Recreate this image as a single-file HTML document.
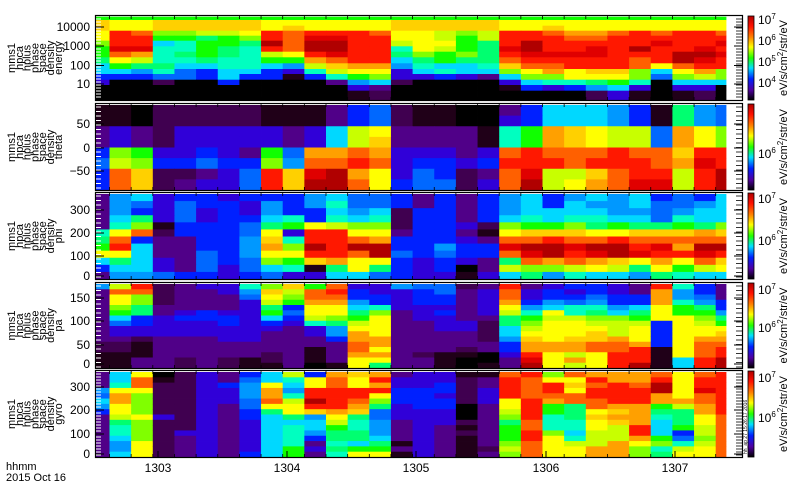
<!DOCTYPE html>
<html><head><meta charset="utf-8"><style>
html,body{margin:0;padding:0;background:#fff;width:800px;height:500px;overflow:hidden}
svg{display:block}
text{font-family:"Liberation Sans",sans-serif;fill:#000}
</style></head><body>
<svg id="s" width="800" height="500" xmlns="http://www.w3.org/2000/svg">
<defs>
<linearGradient id="cb" x1="0" y1="0" x2="0" y2="1">
<stop offset="0" stop-color="#b00000"/><stop offset="0.12" stop-color="#ff1000"/>
<stop offset="0.25" stop-color="#ff8000"/><stop offset="0.37" stop-color="#ffff00"/>
<stop offset="0.5" stop-color="#20ff00"/><stop offset="0.62" stop-color="#00e0ff"/>
<stop offset="0.75" stop-color="#0020ff"/><stop offset="0.88" stop-color="#5000a0"/>
<stop offset="1" stop-color="#000000"/></linearGradient>
</defs>
<g id="g"></g>
</svg>
<script>
var C={k:'#000000',K:'#200018',P:'#400050',p:'#500088',v:'#3000d8',B:'#0020ff',b:'#0068ff',s:'#0098ff',c:'#00d8ff',t:'#00ffc0',a:'#00ff70',g:'#10ff00',l:'#80ff00',L:'#c8ff00',y:'#ffff00',Y:'#ffd000',O:'#ffa000',o:'#ff6000',r:'#ff1800',R:'#e00000',d:'#b00000'};
var P1=["gggggggggggggggggggggggggggggg","YyyYYYYYyyyyyyYYYYYyyyyyyyyyyy","YyyYYYYYyYyyyyYYYYYyyYyyyyyyyy","yrollLLyrorrroyyLlLrroOOororro","yrrggaglroRRrryyLgLrrroorrrrrr","lrrctggadoddrrLyygardrrrrrRrrR","gRRttgatroddrrtyLgaRdrrRrdrrRr","goOtagatLyrRrralglarRRRRrrrddR","ayLttattggOorrcagaaorrrrrordRr","cgaacconcsLYOOstcctYoorrroyorr","ccstbBccBvtLyyvctcclyOyYYlcyOl","BBBbbBcBBKBtglvvBvpcllyyylblLl","vkkPkkBkkkkpscPkkkkvcttagtkccc","kkkkkkkkkkkkvpkkkkkKBvBscvkvvk","kkkkkkkkkkkkKPkkkkkkkkkPvKkKPk"];
P1[9]="cgaacctcsLYOOstcctYoorrroyorr".length==29?"cgaacctt"+"csLYOOstcctYoorrroyorr":P1[9];
var P1Y=[16.7,20,25.7,30.7,35.7,40.7,46.3,51.7,57.3,63.3,69,74,79.7,85,90.7,100];
var P2=["KKkPPPPPKKKpBbPKKkkpBcccsBKasb","KKkPPPPPKKKpBbPKKkkvBcccsBKasb","pvpPvvvvvpvcLyppppKtgOYyLLbOyl","pvpPvvvvvpvcLYppppKtgOYyLLbOyl","BlgvvBvpgbOOoOvvvpvoroooroOYrr".replace("oOYrr","ooYrr"),"bLlBBbBBlsoorovBBvBrrrorrroORr","BoYPPpvbrYRdOyvbBPpoRLLYorrLrd","BoYPpvvbrYddoyBbbPvodLyOoRRLrd"];
var P3=["pscvBBvBBBscbbBpBpBscBscscBbBc","psbvbBBvsBstbbBpBpBscBcsscbbsc","psBvbvBvsBBcscPBBpBscccc ssbscc".replace(" ",""),"pcavbvBBctBtctPBBpBctcttccbtcc","ptlKBBBbagyLllPBBvPlgglagaagal","tyoPBBBbyvrryypBBpKyYYYyyYYYOY","aoBppBBsYtrroOBBBvpooroorooooor".slice(0,30),"grcppBBsOldrddBBsBBRddRddrROdd","yycppbBsyyrrodbBbBBoRdrRdRrrRr","cacvpbBblgYOyyBvBvpaoOoOYyOyoY","BccvpbvbctKayaBvBkpLllLyLaygLy","pssbBBvBbvvccbBvvKvcastccsatcc"];
var P4c=["sppppppppppPPKKK","LoyylgcbvvpPPKKK","rollaaBBvvPKKKpp","PPPPppvvvvpppppp","pppppvBvvvppppPP","vppppBBvvvpppppp","vvpppvBBvvvpppPP","tsbvvvvvvvvpppKK","lYyLagcBvppppPPK","YLlgBbBvpppppppp","gooOyyLtvvppKKKk","oroOyylassBppppK","vBBscagLyOOooOyy","vvBBtlyyyyOOyOya","svvvvppppppppppp","bBBBvvvppppppPpp","bbBBvBvvvppppKKK","PppppppvvpppPKkkk".slice(0,16),"pvvvvvpPPPPppkkK","rooOyLaaccsBBvpp","pvvBstglLyYOOrRd","vBBscyLyyyyOOyyy","BvBbttLyyyYOOLOL","BBbstalLyYYooyyy","vvBBsclLLLOoorrr","ppBBcagLyyyOrrrd","rOOOyyyBBBBBKKKK","tsstggyyyyyyyycc","BBbsaglLyyOooorr","pppBBsagyYOorrdd"];
var P5c=["pppsbcsBpppppppp","cctyOOyyLattcssc","yooyllllyllllyy".concat("y"),"kKPPPPPPvPPPPPPP","PPPPPPPPPPPvpppp","vvvvvvvvvvvvvvvv","ppBvvvpppppppppp","BbsssbbBBvvvvvvB","ccyOOoyacccccccc","LtcstLyyacttttgga".slice(0,16),"ByyrrdrYsccsBpvp","OoorrrrOyLgaataty".slice(0,16),"YyyrroOYattaacgy","OrOrylabbssscagy","pvvBBBvvvppppKpK","vvvBBBBvvvvvvvvv","vvBBvBBvvvpppppp","KPPPPPkkkPKPKKKK","KppvvvppppppppPp","orrrryyLlaggglLl".slice(0,16),"roooorrrroorroooo".slice(0,16),"lyrroOggtttlyyyy","oyYyooaaattctLyy","OrorrooyYyyLLLOO","OOrrrrOYOYLLLOOO","OOorrrOOOOrrOyll","orddOOgatcccglta","yyyyyOLaaagBbtLy","orrRooOOyyLLlLyy","rrrrrrrroooooooo"];
var NS="http://www.w3.org/2000/svg",G=document.getElementById('g');
function el(n,a,t){var e=document.createElementNS(NS,n);for(var k in a)e.setAttribute(k,a[k]);if(t!=null)e.textContent=t;G.appendChild(e);return e;}
var X=[96,109.5];for(var i=1;i<29;i++)X.push(109.5+i*21.65);X[29]=715.7;X.push(726);
function cell(i,y0,y1,ch){var f=C[ch]||'#500088';el('rect',{x:X[i],y:y0,width:X[i+1]-X[i]+0.4,height:y1-y0+0.4,fill:f});}
function rowsPanel(rows,ys){for(var r=0;r<rows.length;r++)for(var i=0;i<30;i++)cell(i,ys[r],ys[r+1],rows[r][i]);}
function eq(a,b,n){var o=[];for(var i=0;i<=n;i++)o.push(a+(b-a)*i/n);return o;}
function colsPanel(cols,ys){for(var i=0;i<30;i++)for(var r=0;r<16;r++)cell(i,ys[r],ys[r+1],cols[i][r]);}
rowsPanel(P1,P1Y);
rowsPanel(P2,eq(105,190,8));
rowsPanel(P3,eq(194,279,12));
colsPanel(P4c,eq(284,368,16));
colsPanel(P5c,eq(372,457,16));
var pan=[[16,100],[104,190],[193,279],[283,368],[371,457]];
var names=["energy","theta","phi","pa","gyro"];
pan.forEach(function(p,k){
 el('rect',{x:95.5,y:p[0]-0.5,width:647,height:p[1]-p[0]+1,fill:'none',stroke:'#000','stroke-width':1.2});
 for(var i=1;i<30;i++){el('line',{x1:X[i],y1:p[0],x2:X[i],y2:p[0]+3,stroke:'#000','stroke-width':0.8});el('line',{x1:X[i],y1:p[1],x2:X[i],y2:p[1]-3,stroke:'#000','stroke-width':0.8});}
 for(var y=p[0]+3;y<p[1];y+=(k==0||k==4?3:4.5)){el('line',{x1:96,y1:y,x2:101,y2:y,stroke:'#fff','stroke-width':1});el('line',{x1:742,y1:y,x2:736,y2:y,stroke:'#000','stroke-width':0.8});}
 el('rect',{x:748,y:p[0],width:6,height:p[1]-p[0],fill:'url(#cb)',stroke:'#000','stroke-width':0.8});
 var cy=(p[0]+p[1])/2;
 var t=el('text',{x:0,y:0,transform:'translate(787,'+cy+') rotate(-90)','text-anchor':'middle','font-size':11},null);
 t.innerHTML='eV/s/cm<tspan dy="-4" font-size="8">2</tspan><tspan dy="4">/str/eV</tspan>';
 var L=["mms1","hpca","hplus","phase","space","density",names[k]];
 L.forEach(function(s,j){el('text',{transform:'translate('+(15+j*7.8)+','+cy+') rotate(-90)','text-anchor':'middle','font-size':11},s);});
});
el('rect',{x:0,y:0,width:94,height:15,fill:'#fff'});
function yl(v,y){el('text',{x:90,y:y+4,'text-anchor':'end','font-size':12},v);el('line',{x1:96,y1:y,x2:104,y2:y,stroke:'#000'});el('line',{x1:742,y1:y,x2:734,y2:y,stroke:'#000'});}
yl("10000",27);yl("1000",46);yl("100",65.5);yl("10",84);
yl("50",124);yl("0",148);yl("\u221250",171);
yl("300",210);yl("200",233);yl("100",256);yl("0",276);
yl("150",298);yl("100",321);yl("50",345);yl("0",364);
yl("300",387);yl("200",410);yl("100",434);yl("0",454);
function cbl(y,e){var t=el('text',{x:758,y:y,'font-size':12},null);t.innerHTML='10<tspan dy="-5" font-size="8">'+e+'</tspan>';}
cbl(24,7);cbl(45,6);cbl(66,5);cbl(87,4);cbl(158,6);cbl(203,7);cbl(245,6);cbl(294,7);cbl(332,6);cbl(382,7);cbl(422,6);
[158,287,416,546,675].forEach(function(x,i){el('text',{x:x,y:472,'text-anchor':'middle','font-size':12},String(1303+i));el('line',{x1:x,y1:457,x2:x,y2:451,stroke:'#000'});});
el('text',{x:6,y:470,'font-size':11},"hhmm");el('text',{x:6,y:481,'font-size':11},"2015 Oct 16");
el('text',{transform:'translate(747,454) rotate(-90)','font-size':5},"hh_ap 27 15:26:17 2016");
</script>
</body></html>
